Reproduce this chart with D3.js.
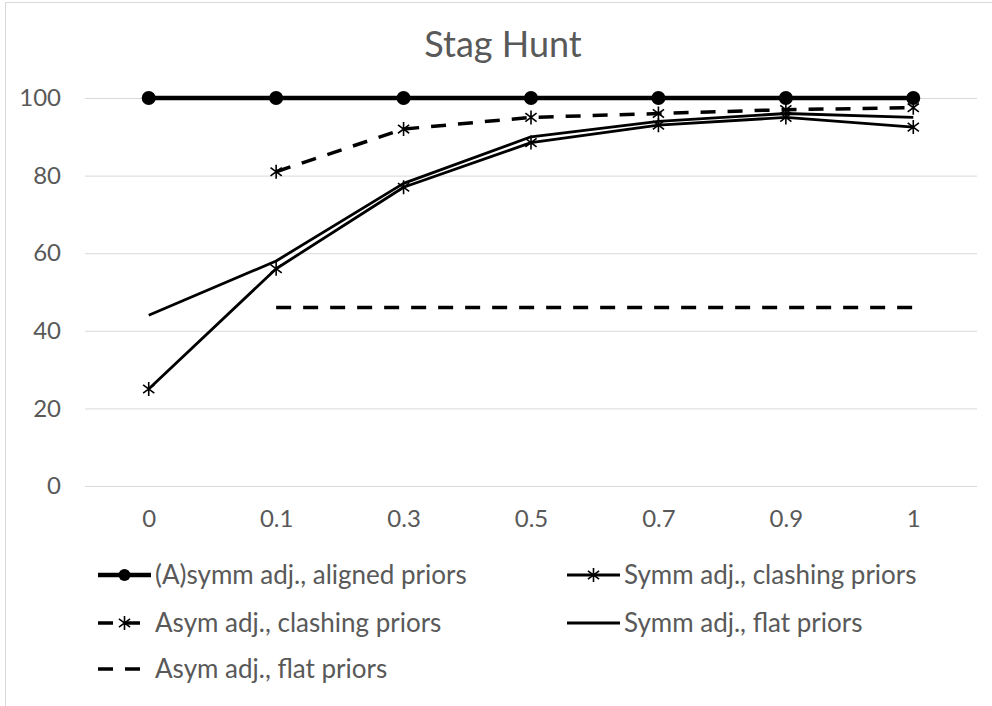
<!DOCTYPE html>
<html>
<head>
<meta charset="utf-8">
<script src="https://cdn.jsdelivr.net/npm/d3@7"></script>
<style>
  html, body { margin: 0; padding: 0; background: #fff; }
  svg { display: block; }
  text { font-family: Lato, "Open Sans", sans-serif; fill: #595959; }
</style>
</head>
<body>
<svg id="chart" width="992" height="706"></svg>
<script>
// Stag Hunt: share of successful coordination by parameter value
const categories = ["0", "0.1", "0.3", "0.5", "0.7", "0.9", "1"];
const yTicks = [0, 20, 40, 60, 80, 100];

const alignedPriors      = [100, 100, 100, 100, 100, 100, 100];
const symmClashingPriors = [25, 56, 77, 88.5, 93, 95, 92.5];
const asymClashingPriors = [null, 81, 92, 95, 96, 97, 97.5];
const symmFlatPriors     = [44, 58, 78, 90, 94, 96, 95];
const asymFlatPriors     = [null, 46, 46, 46, 46, 46, 46];

const seriesNames = [
  "(A)symm adj., aligned priors",
  "Symm adj., clashing priors",
  "Asym adj., clashing priors",
  "Symm adj., flat priors",
  "Asym adj., flat priors"
];

const series = [
  { name: seriesNames[0], values: alignedPriors,      width: 4.5, dash: null,    marker: "circle" },
  { name: seriesNames[1], values: symmClashingPriors, width: 2.8, dash: null,    marker: "star" },
  { name: seriesNames[2], values: asymClashingPriors, width: 3.5, dash: "15,12", marker: "star" },
  { name: seriesNames[3], values: symmFlatPriors,     width: 2.8, dash: null,    marker: null },
  { name: seriesNames[4], values: asymFlatPriors,     width: 3.5, dash: "15,12", marker: null }
];

const svg = d3.select("#chart");

// chart frame
svg.append("rect")
  .attr("x", 5.5).attr("y", 2.5)
  .attr("width", 1000).attr("height", 720)
  .attr("fill", "none").attr("stroke", "#d9d9d9").attr("stroke-width", 1);

const plot = { left: 85, right: 977, top: 98, bottom: 486 };

const x = d3.scalePoint()
  .domain(categories)
  .range([plot.left, plot.right])
  .padding(0.5);

const y = d3.scaleLinear()
  .domain([0, 100])
  .range([plot.bottom, plot.top]);

// title
svg.append("text")
  .attr("x", 503).attr("y", 57)
  .attr("text-anchor", "middle")
  .style("font-size", "36px")
  .text("Stag Hunt");

// horizontal gridlines
svg.append("g")
  .selectAll("line")
  .data(yTicks)
  .join("line")
  .attr("x1", plot.left).attr("x2", plot.right)
  .attr("y1", d => y(d) + 0.5).attr("y2", d => y(d) + 0.5)
  .attr("stroke", "#d9d9d9").attr("stroke-width", 1);

// y axis labels
const yAxis = d3.axisLeft(y).tickValues(yTicks).tickSize(0).tickPadding(0);
const gy = svg.append("g")
  .attr("transform", `translate(${plot.left - 24},0)`)
  .call(yAxis);
gy.select(".domain").remove();
gy.selectAll("text")
  .style("font-size", "24px").style("font-family", "Lato, sans-serif")
  .attr("fill", "#595959");

// x axis labels
const xAxis = d3.axisBottom(x).tickSize(0).tickPadding(0);
const gx = svg.append("g")
  .attr("transform", `translate(0,${plot.bottom + 24})`)
  .call(xAxis);
gx.select(".domain").remove();
gx.selectAll("text")
  .style("font-size", "24px").style("font-family", "Lato, sans-serif")
  .attr("fill", "#595959");

// star marker: an X crossed by a vertical stroke
function starPath(cx, cy, r) {
  const d = r * 0.8;
  return `M${cx},${cy - r}L${cx},${cy + r}` +
         `M${cx - d},${cy - d * 0.75}L${cx + d},${cy + d * 0.75}` +
         `M${cx - d},${cy + d * 0.75}L${cx + d},${cy - d * 0.75}`;
}

function drawMarker(g, type, cx, cy, legend) {
  if (type === "circle") {
    g.append("circle").attr("cx", cx).attr("cy", cy).attr("r", legend ? 6 : 7)
      .attr("fill", "#000");
  } else if (type === "star") {
    g.append("path").attr("d", starPath(cx, cy, 7))
      .attr("fill", "none").attr("stroke", "#000").attr("stroke-width", 1.6);
  }
}

const line = d3.line()
  .defined(d => d.v !== null)
  .x(d => x(d.c))
  .y(d => y(d.v));

const linesG = svg.append("g");
series.forEach(s => {
  const pts = categories.map((c, i) => ({ c, v: s.values[i] }));
  const g = linesG.append("g");
  g.append("path")
    .datum(pts)
    .attr("d", line)
    .attr("fill", "none")
    .attr("stroke", "#000")
    .attr("stroke-width", s.width)
    .attr("stroke-linejoin", "round")
    .attr("stroke-dasharray", s.dash);
  if (s.marker) {
    pts.filter(p => p.v !== null).forEach(p => drawMarker(g, s.marker, x(p.c), y(p.v), false));
  }
});

// legend, filled row by row in two columns
const legendCols = [98, 567];
const legendRows = [575, 623, 669];
const sampleLen = 53;
const legend = svg.append("g");
series.forEach((s, i) => {
  const lx = legendCols[i % 2];
  const ly = legendRows[Math.floor(i / 2)];
  const g = legend.append("g");
  g.append("line")
    .attr("x1", lx).attr("x2", lx + sampleLen)
    .attr("y1", ly).attr("y2", ly)
    .attr("stroke", "#000")
    .attr("stroke-width", s.width)
    .attr("stroke-dasharray", s.dash);
  if (s.marker) drawMarker(g, s.marker, lx + sampleLen / 2, ly, true);
  g.append("text")
    .attr("x", lx + sampleLen + 4)
    .attr("y", ly)
    .attr("dy", "0.35em")
    .style("font-size", "26px")
    .text(s.name);
});
</script>
</body>
</html>
